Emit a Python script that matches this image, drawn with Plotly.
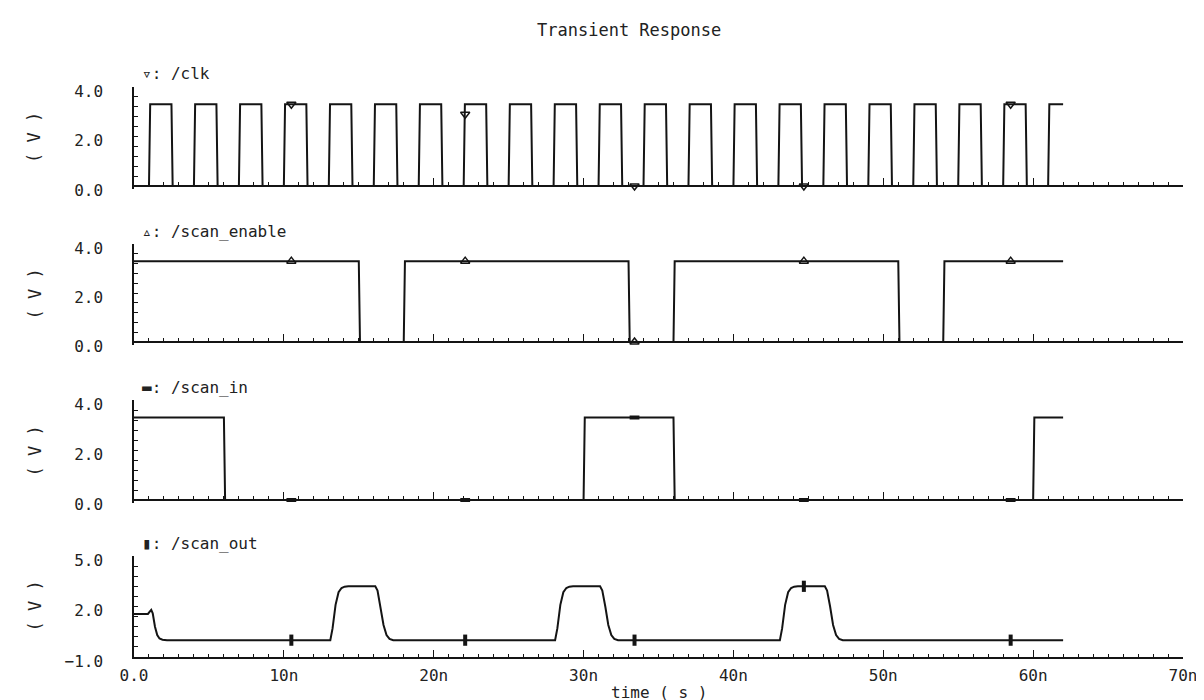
import plotly.graph_objects as go

# ---------------- data (time in ns, voltage in V) ----------------
x_tickvals = [0, 10, 20, 30, 40, 50, 60, 70]
x_ticktext = ["0.0", "10n", "20n", "30n", "40n", "50n", "60n", "70n"]

t_end = 62.0

clk_rise = [1, 4, 7, 10, 13, 16, 19, 22, 25, 28, 31, 34, 37, 40, 43, 46, 49, 52, 55, 58, 61]
clk_fall = [2.5, 5.5, 8.5, 11.5, 14.5, 17.5, 20.5, 23.5, 26.5, 29.5, 32.5, 35.5,
            38.5, 41.5, 44.5, 47.5, 50.5, 53.5, 56.5, 59.5]
clk_high = 3.3
clk_low = 0.0

se_edge_t = [0.0, 15.0, 18.0, 33.0, 36.0, 51.0, 54.0]
se_edge_v = [3.3, 0.0, 3.3, 0.0, 3.3, 0.0, 3.3]

si_edge_t = [0.0, 6.0, 30.0, 36.0, 60.0]
si_edge_v = [3.3, 0.0, 3.3, 0.0, 3.3]

so_t = [0.0, 0.93, 1.05, 1.15, 1.25, 1.4, 1.55, 1.7, 1.9, 2.2,
        13.1, 13.25, 13.45, 13.65, 13.85, 14.05, 14.3,
        16.1, 16.25, 16.45, 16.65, 16.85, 17.05, 17.3,
        28.1, 28.25, 28.45, 28.65, 28.85, 29.05, 29.3,
        31.1, 31.25, 31.45, 31.65, 31.85, 32.05, 32.3,
        43.1, 43.25, 43.45, 43.65, 43.85, 44.05, 44.3,
        46.1, 46.25, 46.45, 46.65, 46.85, 47.05, 47.3,
        62.0]
so_v = [1.55, 1.56, 1.7, 1.8, 1.6, 0.8, 0.3, 0.1, 0.03, 0.0,
        0.0, 0.7, 2.1, 2.85, 3.1, 3.18, 3.2,
        3.2, 2.95, 2.0, 0.9, 0.3, 0.08, 0.0,
        0.0, 0.7, 2.1, 2.85, 3.1, 3.18, 3.2,
        3.2, 2.95, 2.0, 0.9, 0.3, 0.08, 0.0,
        0.0, 0.7, 2.1, 2.85, 3.1, 3.18, 3.2,
        3.2, 2.95, 2.0, 0.9, 0.3, 0.08, 0.0,
        0.0]

marker_t = [10.5, 22.1, 33.4, 44.7, 58.5]
clk_marker_v = [3.3, 2.9, 0.0, 0.0, 3.3]
se_marker_v = [3.3, 3.3, 0.0, 3.3, 3.3]
si_marker_v = [0.0, 0.0, 3.3, 0.0, 0.0]
so_marker_v = [0.0, 0.0, 0.0, 3.2, 0.0]

signal_names = ["\u25BF: /clk", "\u25B5: /scan_enable", "\u25AC: /scan_in", "\u25AE: /scan_out"]

# ---------------- build waveform paths ----------------
EDGE = 0.08


def clock_path(rises, falls, lo, hi, tend):
    t, v = [0.0], [lo]
    for i, r in enumerate(rises):
        t += [r, r + EDGE]
        v += [lo, hi]
        if i < len(falls):
            t += [falls[i], falls[i] + EDGE]
            v += [hi, lo]
    t.append(tend)
    v.append(v[-1])
    return t, v


def step_path(edge_t, edge_v, tend):
    t, v = [edge_t[0]], [edge_v[0]]
    for k in range(1, len(edge_t)):
        t += [edge_t[k], edge_t[k] + EDGE]
        v += [edge_v[k - 1], edge_v[k]]
    t.append(tend)
    v.append(edge_v[-1])
    return t, v


clk_t, clk_v = clock_path(clk_rise, clk_fall, clk_low, clk_high, t_end)
se_t, se_v = step_path(se_edge_t, se_edge_v, t_end)
si_t, si_v = step_path(si_edge_t, si_edge_v, t_end)

# ---------------- layout geometry (pixels) ----------------
W, H = 1204, 700
L, R, T, B = 126, 29, 79, 51
PH = H - T - B


def f(px):
    return (H - B - px) / PH


# panel: (top pixel, zero pixel, bottom pixel)
panels_px = [(79, 178, 181), (236, 334, 337), (392, 492, 495), (548, 649, 649)]

LINE = "#141414"
TXT = "#222222"
FONT = "DejaVu Sans Mono"

fig = go.Figure()

traces = [
    (clk_t, clk_v, clk_marker_v, "triangle-down-open", 8, 1.5),
    (se_t, se_v, se_marker_v, "triangle-up-open", 8, 1.5),
    (si_t, si_v, si_marker_v, "line-ew", 7, 4),
    (so_t, so_v, so_marker_v, "line-ns", 8, 4),
]

for i, (tt, vv, mv, sym, msz, mlw) in enumerate(traces):
    ax = "" if i == 0 else str(i + 1)
    fig.add_trace(go.Scatter(x=tt, y=vv, mode="lines", line=dict(color=LINE, width=2),
                             xaxis="x" + ax, yaxis="y" + ax, showlegend=False,
                             hoverinfo="skip"))
    fig.add_trace(go.Scatter(x=marker_t, y=mv, mode="markers",
                             marker=dict(symbol=sym, size=msz, color=LINE,
                                         line=dict(color=LINE, width=mlw)),
                             cliponaxis=False, xaxis="x" + ax, yaxis="y" + ax,
                             showlegend=False, hoverinfo="skip"))

layout = dict(
    width=W, height=H,
    margin=dict(l=L, r=R, t=T, b=B),
    paper_bgcolor="white", plot_bgcolor="white",
    showlegend=False,
)

annotations = []
for i, (top, zero, bot) in enumerate(panels_px):
    ax = "" if i == 0 else str(i + 1)
    last = i == 3
    xa = dict(
        range=[0, 70], domain=[0, 1],
        showline=True, linecolor=LINE, linewidth=1.5,
        ticks="inside", ticklen=7, tickwidth=1, tickcolor=LINE,
        tickmode="array", tickvals=x_tickvals, ticktext=x_ticktext,
        minor=dict(tickmode="linear", tick0=0, dtick=1, ticks="inside",
                   ticklen=3.5, tickwidth=1, tickcolor=LINE),
        showgrid=False, zeroline=False,
        showticklabels=last,
        tickfont=dict(family=FONT, size=16, color=TXT),
        ticklabelstandoff=3,
    )
    if last:
        xa["anchor"] = "y4"
        ya_range = [-1.0, 5.0]
        ytv = [-1, 2, 5]
        ytt = ["\u22121.0", "2.0", "5.0"]
        minor = dict(tickmode="linear", tick0=-1, dtick=0.6, ticks="inside",
                     ticklen=4, tickwidth=1, tickcolor=LINE)
    else:
        xa["anchor"] = "free"
        xa["position"] = f(zero)
        xa["matches"] = "x4"
        pxv = (zero - top) / 4.0
        ya_range = [-(bot - zero) / pxv, 4.0]
        ytv = [0, 2, 4]
        ytt = ["0.0", "2.0", "4.0"]
        minor = dict(tickmode="linear", tick0=0, dtick=0.4, ticks="inside",
                     ticklen=4, tickwidth=1, tickcolor=LINE)
    ya = dict(
        range=ya_range, domain=[f(bot), f(top)], anchor="x" + ax,
        showline=True, linecolor=LINE, linewidth=1.5,
        ticks="inside", ticklen=4, tickwidth=1, tickcolor=LINE,
        tickmode="array", tickvals=ytv, ticktext=ytt,
        minor=minor,
        showgrid=False, zeroline=False,
        tickfont=dict(family=FONT, size=16, color=TXT),
        ticklabelstandoff=26, ticklabelshift=4,
    )
    layout["xaxis" + ax] = xa
    layout["yaxis" + ax] = ya

    annotations.append(dict(
        text=signal_names[i], xref="paper", yref="paper",
        x=(132 - L) / (W - L - R), y=f(top - 13), xanchor="left", yanchor="middle",
        showarrow=False, font=dict(family=FONT, size=16, color=TXT)))
    annotations.append(dict(
        text="( V )", xref="paper", yref="paper",
        x=(26 - L) / (W - L - R), y=f((top + bot) / 2), xanchor="center", yanchor="middle",
        textangle=-90, showarrow=False, font=dict(family=FONT, size=17, color=TXT)))

annotations.append(dict(
    text="Transient Response", xref="paper", yref="paper",
    x=(621 - L) / (W - L - R), y=f(22), xanchor="center", yanchor="middle",
    showarrow=False, font=dict(family=FONT, size=17, color=TXT)))
annotations.append(dict(
    text="time ( s )", xref="paper", yref="paper",
    x=0.5, y=f(684), xanchor="center", yanchor="middle",
    showarrow=False, font=dict(family=FONT, size=16, color=TXT)))

layout["annotations"] = annotations
fig.update_layout(**layout)
fig.write_html("out.html")
